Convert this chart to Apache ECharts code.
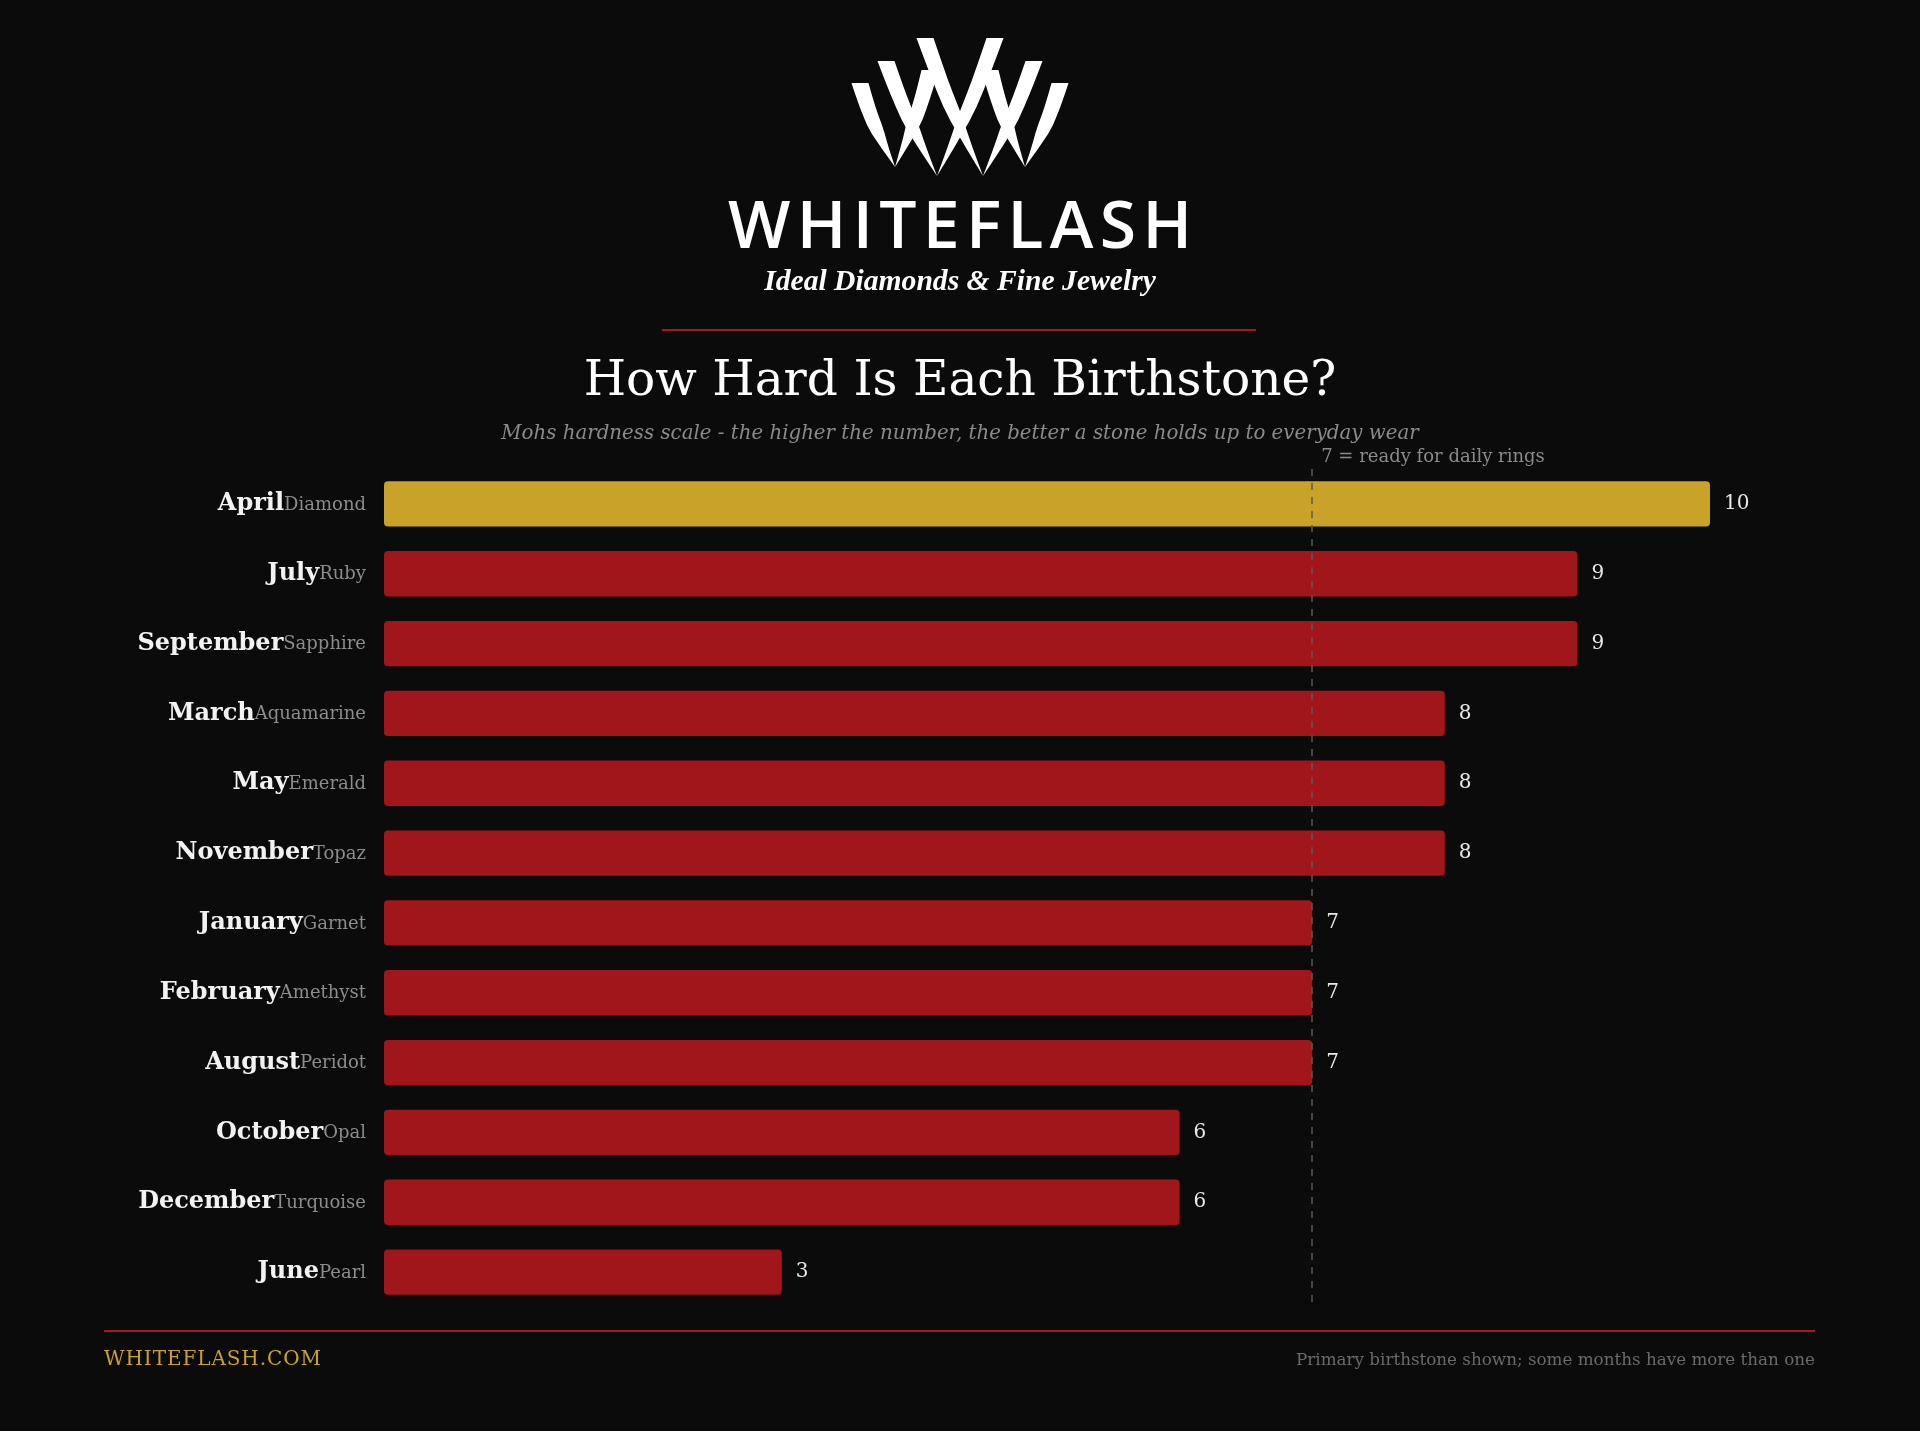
<!DOCTYPE html>
<html>
<head>
<meta charset="utf-8">
<script src="https://cdn.jsdelivr.net/npm/echarts@6/dist/echarts.min.js"></script>
<style>
html,body{margin:0;padding:0;background:#0b0b0b;}
#chart{width:1920px;height:1431px;}
</style>
</head>
<body>
<div id="chart"></div>
<script>
// ---------- data ----------
const months   = ['April','July','September','March','May','November','January','February','August','October','December','June'];
const stones   = ['Diamond','Ruby','Sapphire','Aquamarine','Emerald','Topaz','Garnet','Amethyst','Peridot','Opal','Turquoise','Pearl'];
const hardness = [10, 9, 9, 8, 8, 8, 7, 7, 7, 6, 6, 3];
const threshold = 7;
const thresholdLabel = '7 = ready for daily rings';
const brandName = 'WHITEFLASH';
const tagline = 'Ideal Diamonds & Fine Jewelry';
const titleText = 'How Hard Is Each Birthstone?';
const subtitleText = 'Mohs hardness scale - the higher the number, the better a stone holds up to everyday wear';
const footerLeft = 'WHITEFLASH.COM';
const footerRight = 'Primary birthstone shown; some months have more than one';

// ---------- styles ----------
const BG = '#0b0b0b';
const GOLD = '#C9A22A';
const RED = '#A0161A';
const LINE_RED = '#A01B1B';
const SERIF = "'DejaVu Serif', Georgia, serif";
const SANS = "'Open Sans', 'Noto Sans', sans-serif";

const mctx = document.createElement('canvas').getContext('2d');
function measure(text, font){ mctx.font = font; return mctx.measureText(text).width; }
function fitSize(text, style, weight, family, targetW){
  return 100 * targetW / measure(text, style + ' ' + weight + ' 100px ' + family);
}

// spaced letters
function spacedLetters(text, family, weight, size, x0, x1, y, color){
  const widths = text.split('').map(ch => measure(ch, weight + ' ' + size + 'px ' + family));
  const total = widths.reduce((a,b)=>a+b,0);
  const gap = (x1 - x0 - total) / (text.length - 1);
  let x = x0; const els = [];
  text.split('').forEach((ch,i)=>{
    els.push({type:'text', x:x, y:y, style:{text:ch, fill:color, font: weight + ' ' + size + 'px ' + family, textVerticalAlign:'middle', textAlign:'left'}});
    x += widths[i] + gap;
  });
  return els;
}

// logo strokes (wedges: wide at top, pointed at bottom, slightly curved)
function wedge(tx, ty, bx, by, w, bend){
  const pts = [];
  const N = 10;
  const left = [], right = [];
  for (let i = 0; i <= N; i++) {
    const t = i / N;
    const cx = tx + (bx - tx) * t + bend * Math.sin(Math.PI * t);
    const cy = ty + (by - ty) * t;
    const hw = (w / 2) * (t < 0.55 ? 1 - 0.25 * t : (1 - 0.25 * 0.55) * (1 - (t - 0.55) / 0.45));
    left.push([cx - hw, cy]);
    right.push([cx + hw, cy]);
  }
  return left.concat(right.reverse());
}
const logoStrokes = [
  [860, 83, 895, 167, -3],
  [886, 61, 937, 176, -3],
  [925, 38, 983, 176, -3],
  [930, 70, 895, 167, 3]
];
const logoEls = [];
logoStrokes.forEach(s=>{
  logoEls.push({type:'polygon', shape:{points: wedge(s[0], s[1], s[2], s[3], 17, s[4])}, style:{fill:'#ffffff'}});
  logoEls.push({type:'polygon', shape:{points: wedge(1920 - s[0], s[1], 1920 - s[2], s[3], 17, -s[4])}, style:{fill:'#ffffff'}});
});

const titleSize = fitSize(titleText, 'normal', 'normal', SERIF, 753);
const subSize = fitSize(subtitleText, 'italic', 'normal', SERIF, 918);
const tagSize = fitSize(tagline, 'italic', 'bold', "'Liberation Serif', serif", 392);
const footRSize = fitSize(footerRight, 'normal', 'normal', SERIF, 519);

const graphics = [].concat(
  logoEls,
  spacedLetters(brandName, SANS, '600', 66, 728, 1192, 229, '#ffffff'),
  [
    {type:'text', x:960, y:282, style:{text:tagline, fill:'#ffffff', font:'italic bold ' + tagSize + "px 'Liberation Serif', serif", textAlign:'center', textVerticalAlign:'middle'}},
    {type:'line', shape:{x1:662, y1:330, x2:1256, y2:330}, style:{stroke:LINE_RED, lineWidth:2}},
    {type:'text', x:960, y:382, style:{text:titleText, fill:'#ffffff', font:'normal ' + titleSize + 'px ' + SERIF, textAlign:'center', textVerticalAlign:'middle'}},
    {type:'text', x:960, y:434, style:{text:subtitleText, fill:'#8a8a8a', font:'italic ' + subSize + 'px ' + SERIF, textAlign:'center', textVerticalAlign:'middle'}},
    {type:'line', shape:{x1:104, y1:1331, x2:1815, y2:1331}, style:{stroke:LINE_RED, lineWidth:2}},
    {type:'text', x:1815, y:1361, style:{text:footerRight, fill:'#6a6a6a', font:'normal ' + footRSize + 'px ' + SERIF, textAlign:'right', textVerticalAlign:'middle'}}
  ],
  spacedLetters(footerLeft, SERIF, 'normal', 20, 104, 321, 1360, GOLD)
);

const chart = echarts.init(document.getElementById('chart'), null, {renderer:'canvas'});
const maxVal = Math.max(...hardness);
const option = {
  backgroundColor: BG,
  animation: false,
  grid: {left: 384, right: 210, top: 469, bottom: 1431 - 1307, containLabel: false},
  xAxis: {type:'value', min:0, max:10, show:false},
  yAxis: {
    type:'category', inverse:true,
    data: months.map((m,i)=> m + '|' + stones[i]),
    axisLine:{show:false}, axisTick:{show:false}, splitLine:{show:false},
    axisLabel:{
      margin: 18,
      formatter: v => { const p = v.split('|'); return '{m|' + p[0] + '}{s|' + p[1] + '}'; },
      rich:{
        m:{fontFamily:SERIF, fontWeight:'bold', fontSize:24, color:'#f2f2f2', verticalAlign:'bottom'},
        s:{fontFamily:SERIF, fontSize:18, color:'#8c8c8c', verticalAlign:'bottom', padding:[0,0,2,0]}
      }
    }
  },
  series: [{
    type:'bar',
    data: hardness.map(v => ({value:v, itemStyle:{color: v === maxVal ? GOLD : RED}})),
    barCategoryGap: '35%',
    itemStyle:{borderRadius:4},
    label:{show:true, position:'right', distance:14, color:'#e8e8e8', fontFamily:SERIF, fontSize:20},
    markLine:{
      silent:true, symbol:'none',
      lineStyle:{color:'#5a5a5a', type:[7,7], width:1.5},
      label:{show:false},
      data:[{xAxis: threshold}]
    },
    z: 2
  }],
  graphic: graphics
};
chart.setOption(option);
const tx = chart.convertToPixel({xAxisIndex:0}, threshold);
chart.setOption({graphic: graphics.concat([
  {type:'text', x: tx + 9, y: 457, style:{text:thresholdLabel, fill:'#8a8a8a', font:'normal 18px ' + SERIF, textAlign:'left', textVerticalAlign:'middle'}}
])});
</script>
</body>
</html>
